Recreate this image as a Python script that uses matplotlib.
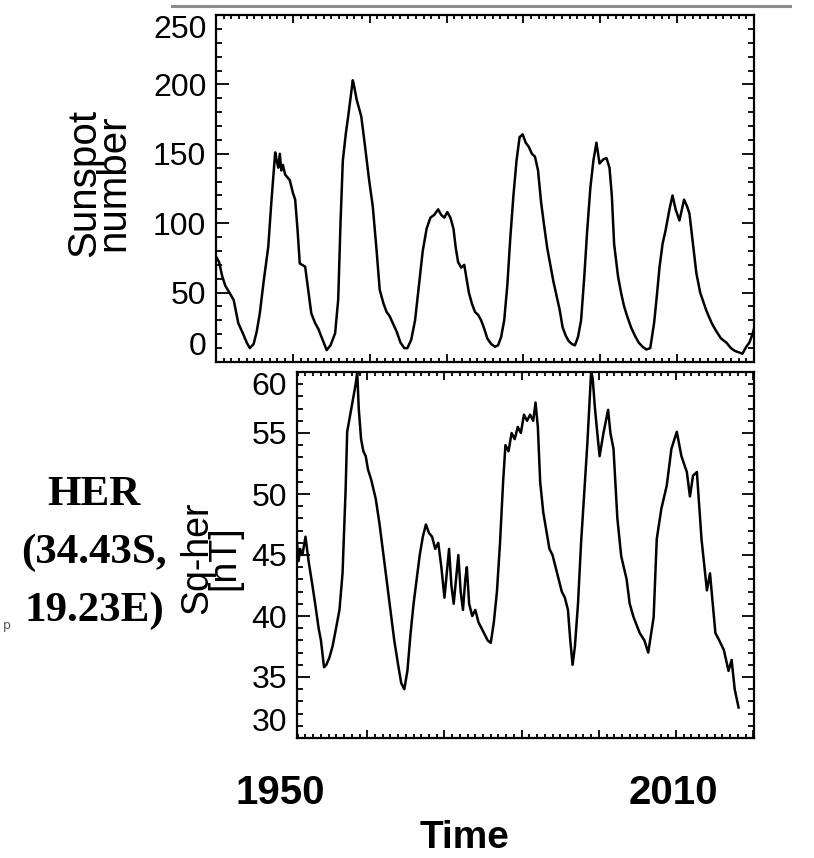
import matplotlib
matplotlib.use("Agg")
import matplotlib.pyplot as plt
from matplotlib.ticker import MultipleLocator
from matplotlib.lines import Line2D

# Smoothed sunspot number, 1940-2010
ssn_years = [1940.0, 1940.4, 1940.8, 1941.2, 1941.8, 1942.3, 1942.9, 1943.5, 1944.0, 1944.4,
             1944.9, 1945.3, 1945.7, 1946.2, 1946.8, 1947.2, 1947.7, 1947.9, 1948.1, 1948.3,
             1948.5, 1948.7, 1949.0, 1949.3, 1949.6, 1950.0, 1950.3, 1950.6, 1950.9, 1951.2,
             1951.6, 1952.0, 1952.4, 1952.9, 1953.3, 1953.8, 1954.4, 1954.9, 1955.5, 1955.9,
             1956.2, 1956.5, 1956.9, 1957.2, 1957.5, 1957.8, 1958.0, 1958.3, 1958.6, 1958.9,
             1959.4, 1959.9, 1960.4, 1960.9, 1961.3, 1961.8, 1962.2, 1962.6, 1963.0, 1963.5,
             1964.0, 1964.5, 1964.9, 1965.4, 1965.9, 1966.4, 1966.9, 1967.4, 1967.9, 1968.4,
             1968.9, 1969.3, 1969.7, 1970.1, 1970.5, 1970.9, 1971.2, 1971.5, 1971.9, 1972.3,
             1972.6, 1972.9, 1973.3, 1973.7, 1974.1, 1974.5, 1974.9, 1975.3, 1975.8, 1976.3,
             1976.7, 1977.1, 1977.5, 1977.9, 1978.3, 1978.7, 1979.1, 1979.5, 1979.9, 1980.3,
             1980.7, 1981.1, 1981.5, 1981.9, 1982.3, 1982.7, 1983.1, 1983.5, 1983.9, 1984.3,
             1984.7, 1985.1, 1985.5, 1985.9, 1986.3, 1986.7, 1987.1, 1987.5, 1987.9, 1988.3,
             1988.7, 1989.1, 1989.5, 1989.9, 1990.4, 1990.8, 1991.2, 1991.5, 1991.8, 1992.3,
             1992.7, 1993.1, 1993.5, 1994.0, 1994.5, 1995.0, 1995.5, 1996.0, 1996.5, 1997.0,
             1997.4, 1997.7, 1998.1, 1998.5, 1999.0, 1999.4, 1999.8, 2000.3, 2000.9, 2001.3,
             2001.6, 2002.0, 2002.5, 2003.0, 2003.8, 2004.5, 2005.0, 2005.7, 2006.4, 2007.0,
             2007.5, 2008.0, 2008.5, 2009.0, 2009.4, 2009.8, 2010.0]
ssn_values = [76, 72, 62, 55, 49.5, 44.7, 28, 20.6, 14, 10,
              13, 22, 35, 58, 83, 115, 151, 145, 140, 150,
              138, 142, 135, 133, 131, 122, 117, 96, 71, 70,
              68.7, 52, 35, 28, 24, 17, 8.6, 12, 20.7, 45,
              100, 145, 165, 177, 190, 203, 198, 189, 183, 177,
              155, 132, 112, 80, 52, 42, 36, 33, 28, 22,
              14, 10, 10, 16, 30, 55, 80, 96, 104, 106,
              110, 106, 104, 108, 104, 96, 82, 72, 68, 70,
              60, 50, 42, 36, 34, 30, 24, 17, 13, 11,
              12, 18, 30, 55, 90, 120, 145, 162, 164, 158,
              155, 150, 148, 138, 115, 98, 82, 70, 58, 48,
              38, 25, 19, 15, 13, 12, 18, 30, 60, 95,
              125, 145, 158, 143, 146, 147, 140, 120, 85, 62,
              50, 40, 33, 25, 19, 14, 11, 9, 10, 28,
              50, 68, 85, 95, 110, 120, 110, 102, 117, 112,
              107, 88, 64, 50, 37, 28, 23, 17, 14, 10,
              8, 7, 6, 11, 14, 20, 24]

# Sq amplitude at Hermanus [nT]
sq_years = [1950.9, 1951.1, 1951.3, 1951.6, 1952.0, 1952.4, 1952.9, 1953.3, 1953.7, 1954.0,
            1954.4, 1954.7, 1955.1, 1955.5, 1955.9, 1956.4, 1956.8, 1957.0, 1957.2, 1957.4,
            1957.8, 1958.1, 1958.5, 1958.7, 1958.9, 1959.2, 1959.5, 1959.8, 1960.1, 1960.5,
            1961.1, 1961.6, 1962.0, 1962.5, 1963.0, 1963.5, 1964.0, 1964.4, 1964.8, 1965.2,
            1965.6, 1966.0, 1966.4, 1966.8, 1967.2, 1967.6, 1968.0, 1968.4, 1968.8, 1969.2,
            1969.6, 1970.0, 1970.3, 1970.6, 1970.9, 1971.2, 1971.5, 1971.8, 1972.1, 1972.4,
            1972.7, 1972.9, 1973.2, 1973.6, 1974.0, 1974.4, 1974.8, 1975.2, 1975.6, 1976.0,
            1976.4, 1976.8, 1977.2, 1977.6, 1977.9, 1978.3, 1978.7, 1979.1, 1979.5, 1979.9,
            1980.3, 1980.7, 1981.1, 1981.5, 1981.8, 1982.1, 1982.4, 1982.8, 1983.2, 1983.6,
            1984.0, 1984.4, 1984.8, 1985.2, 1985.6, 1986.0, 1986.3, 1986.6, 1986.9, 1987.3,
            1987.7, 1988.1, 1988.5, 1988.8, 1989.0, 1989.2, 1989.5, 1989.8, 1990.1, 1990.6,
            1991.2, 1991.5, 1991.9, 1992.4, 1992.9, 1993.6, 1994.0, 1994.5, 1995.3, 1995.9,
            1996.4, 1997.1, 1997.5, 1998.1, 1998.8, 1999.4, 2000.1, 2000.7, 2001.4, 2001.8,
            2002.2, 2002.7, 2003.3, 2004.0, 2004.4, 2005.1, 2005.6, 2006.2, 2006.8, 2007.2,
            2007.6, 2008.1]
sq_values = [46.0, 44.5, 45.5, 45.0, 46.5, 44.5, 42.5, 40.8, 39.0, 38.0,
             35.8, 36.0, 36.6, 37.5, 38.8, 40.5, 43.5, 47.0, 50.4, 55.1,
             56.5, 57.5, 59.0, 60.0, 57.0, 54.5, 53.5, 53.1, 52.0, 51.2,
             49.6, 47.5, 45.5, 43.0, 40.5, 38.0, 36.0, 34.5, 34.0, 35.5,
             38.5, 41.0, 43.0, 45.0, 46.5, 47.5, 46.8, 46.5, 45.5, 46.0,
             44.0, 41.5, 43.5, 45.5, 42.5, 41.0, 43.0, 45.0, 42.0, 40.5,
             43.0, 44.0, 41.0, 40.0, 40.5, 39.5, 39.0, 38.5, 38.0, 37.8,
             39.5, 42.0, 46.0, 51.0, 54.0, 53.5, 55.0, 54.5, 55.5, 55.0,
             56.5, 56.0, 56.5, 56.0, 57.5, 55.5, 51.0, 48.5, 47.0, 45.5,
             45.0, 44.0, 43.0, 42.0, 41.5, 40.5, 38.0, 36.0, 37.5, 41.0,
             46.0, 50.0, 54.0, 57.5, 60.0, 59.5, 57.0, 55.0, 53.1, 55.0,
             56.9, 55.0, 53.7, 48.0, 44.9, 43.0, 41.0, 39.9, 38.6, 38.0,
             37.0, 39.9, 46.3, 48.8, 50.7, 53.7, 55.1, 53.1, 51.8, 49.8,
             51.5, 51.8, 46.3, 42.1, 43.5, 38.6, 38.0, 37.2, 35.5, 36.4,
             34.0, 32.5]

ssn_ticks = [0, 50, 100, 150, 200, 250]
sq_ticks = [30, 35, 40, 45, 50, 55, 60]

W, H = 814, 858
fig = plt.figure(figsize=(W / 100, H / 100), dpi=100)
fig.patch.set_facecolor("white")


def px_box(x0, y0, x1, y1):
    return [x0 / W, 1 - y1 / H, (x1 - x0) / W, (y1 - y0) / H]


def style(ax, yticks, ymin_step):
    ax.set_yticks(yticks)
    ax.yaxis.set_minor_locator(MultipleLocator(ymin_step))
    ax.xaxis.set_major_locator(MultipleLocator(10))
    ax.xaxis.set_minor_locator(MultipleLocator(1))
    ax.tick_params(which="both", direction="in", top=True, right=True,
                   labelbottom=False, color="black", width=1.3)
    ax.tick_params(axis="x", which="major", length=6)
    ax.tick_params(axis="x", which="minor", length=3)
    ax.tick_params(axis="y", which="major", length=9, pad=7)
    ax.tick_params(axis="y", which="minor", length=4)
    labels = ax.get_yticklabels()
    for lab in labels:
        lab.set_family("Liberation Sans")
        lab.set_fontsize(23)
    # end labels kept inside the frame, as in the original
    labels[0].set_va("bottom")
    labels[-1].set_va("top")
    for s in ax.spines.values():
        s.set_linewidth(1.6)


ax1 = fig.add_axes(px_box(216, 15, 754, 362))
ax1.plot(ssn_years, ssn_values, color="black", lw=1.8)
ax1.set_xlim(1940, 2010)
ax1.set_ylim(0, 250)
style(ax1, ssn_ticks, 10)

ax2 = fig.add_axes(px_box(297, 372, 754, 738))
ax2.plot(sq_years, sq_values, color="black", lw=1.8)
ax2.set_xlim(1950.9, 2010.1)
ax2.set_ylim(30, 60)
style(ax2, sq_ticks, 1)

# y labels
fig.text(99 / W, 1 - 183 / H, "Sunspot\nnumber", rotation=90, ha="center", va="center",
         fontsize=29, family="Liberation Sans", linespacing=0.7, multialignment="center")
fig.text(211 / W, 1 - 558 / H, "Sq-her\n[nT]", rotation=90, ha="center", va="center",
         fontsize=27, family="Liberation Sans", linespacing=0.7, multialignment="center")

# station label
fig.text(94 / W, 1 - 553 / H, "HER\n(34.43S,\n19.23E)", ha="center", va="center",
         fontsize=31, family="Liberation Serif", fontweight="bold", linespacing=1.65)

# time annotations
big = dict(family="Liberation Sans", fontweight="bold")
fig.text(280 / W, 1 - 793 / H, "1950", ha="center", va="center", fontsize=29, **big)
fig.text(673 / W, 1 - 793 / H, "2010", ha="center", va="center", fontsize=29, **big)
fig.text(465 / W, 1 - 838 / H, "Time", ha="center", va="center", fontsize=28, **big)

# thin gray rule along the top
fig.add_artist(Line2D([172 / W, 790 / W], [1 - 6 / H, 1 - 6 / H],
                      color="#8c8c8c", lw=2.2))
fig.text(3 / W, 1 - 626 / H, "p", ha="left", va="center", fontsize=9, color="#555555")

fig.savefig("out.png", dpi=100)
